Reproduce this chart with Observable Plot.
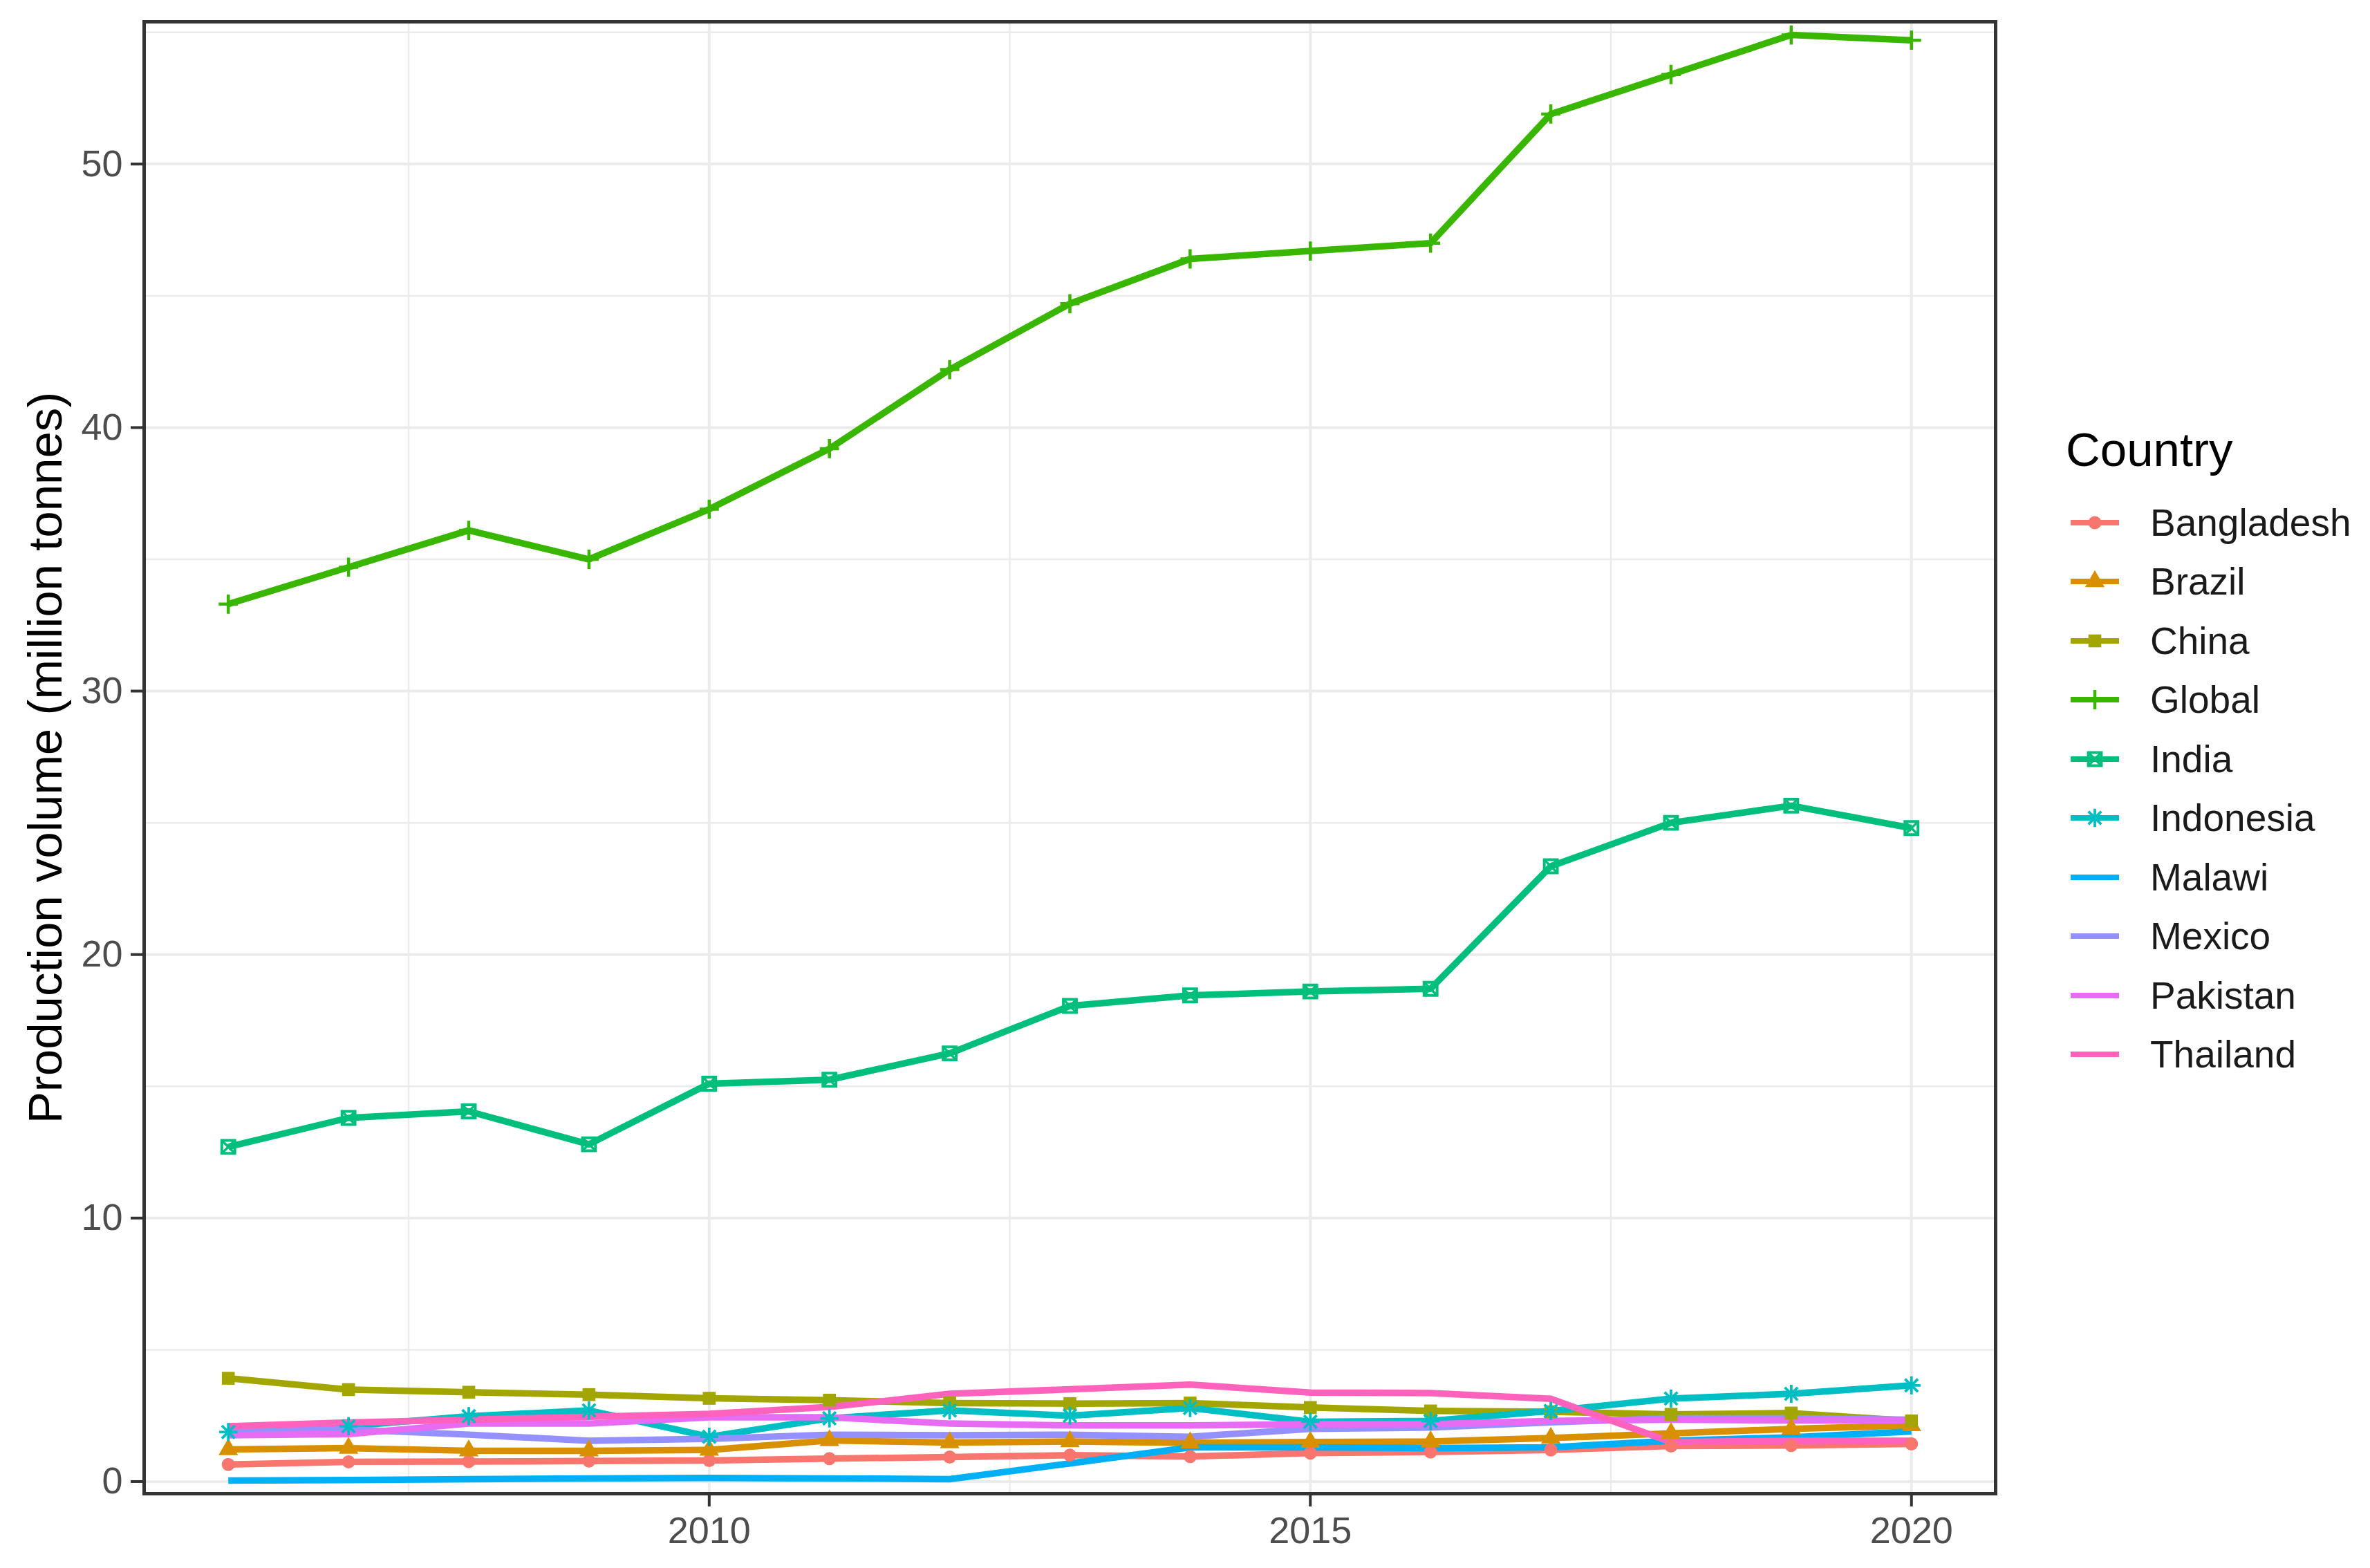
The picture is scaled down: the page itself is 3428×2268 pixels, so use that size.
<!DOCTYPE html>
<html><head><meta charset="utf-8">
<script src="https://cdn.jsdelivr.net/npm/d3@7"></script>
<script src="https://cdn.jsdelivr.net/npm/@observablehq/plot@0.6"></script>
<style>
html,body{margin:0;padding:0;background:#fff;}
#wrap{position:relative;width:3428px;height:2268px;font-family:"Liberation Sans",Arial,Helvetica,sans-serif;background:#fff;}
#chart{position:absolute;left:0;top:0;}
#legend{position:absolute;left:2988px;top:611px;}
.ltitle{font-size:69px;line-height:80px;height:80px;color:#000;margin-bottom:22px;white-space:nowrap;}
.litem{display:flex;align-items:center;height:85.5px;}
.litem svg{margin-left:7px;margin-right:45px;overflow:visible;}
.litem span{font-size:55px;color:#1a1a1a;white-space:nowrap;}
</style></head>
<body><div id="wrap"><div id="chart"></div><div id="legend"></div></div>
<script>
// ---- data ----
const years = [2006, 2007, 2008, 2009, 2010, 2011, 2012, 2013, 2014, 2015, 2016, 2017, 2018, 2019, 2020];
const countries = ["Bangladesh", "Brazil", "China", "Global", "India", "Indonesia", "Malawi", "Mexico", "Pakistan", "Thailand"];
const colors = ["#F8766D", "#D89000", "#A3A500", "#39B600", "#00BF7D", "#00BFC4", "#00B0F6", "#9590FF", "#E76BF3", "#FF62BC"];

const bangladesh = [0.65, 0.75, 0.76, 0.78, 0.80, 0.87, 0.93, 1.00, 0.95, 1.08, 1.12, 1.20, 1.35, 1.37, 1.43];
const brazil     = [1.22, 1.27, 1.17, 1.17, 1.20, 1.56, 1.48, 1.52, 1.47, 1.50, 1.52, 1.65, 1.83, 2.00, 2.13];
const china      = [3.92, 3.49, 3.39, 3.30, 3.16, 3.09, 2.98, 2.96, 2.98, 2.81, 2.68, 2.65, 2.55, 2.60, 2.30];
const global     = [33.3, 34.7, 36.1, 35.0, 36.9, 39.2, 42.2, 44.7, 46.4, 46.7, 47.0, 51.9, 53.4, 54.9, 54.7];
const india      = [12.7, 13.8, 14.05, 12.8, 15.1, 15.25, 16.25, 18.05, 18.45, 18.6, 18.7, 23.35, 25.0, 25.65, 24.8];
const indonesia  = [1.88, 2.10, 2.48, 2.70, 1.70, 2.40, 2.70, 2.50, 2.79, 2.27, 2.30, 2.68, 3.15, 3.33, 3.65];
const malawi     = [0.04, 0.06, 0.09, 0.12, 0.14, 0.12, 0.09, 0.69, 1.30, 1.30, 1.27, 1.30, 1.55, 1.68, 1.90];
const mexico     = [1.92, 1.98, 1.78, 1.55, 1.62, 1.78, 1.76, 1.78, 1.70, 2.00, 2.05, 2.25, 2.40, 2.40, 2.35];
const pakistan   = [1.76, 1.80, 2.20, 2.20, 2.44, 2.44, 2.20, 2.13, 2.13, 2.18, 2.18, 2.30, 2.35, 2.32, 2.32];
const thailand   = [2.10, 2.24, 2.35, 2.46, 2.57, 2.83, 3.33, 3.50, 3.68, 3.38, 3.36, 3.14, 1.50, 1.55, 1.55];

const seriesValues = [bangladesh, brazil, china, global, india, indonesia, malawi, mexico, pakistan, thailand];

const xTicks = [2010, 2015, 2020];
const xMinor = [2007.5, 2012.5, 2017.5];
const yTicks = [0, 10, 20, 30, 40, 50];
const yMinor = [5, 15, 25, 35, 45, 55];
const yLabel = "Production volume (million tonnes)";
const legendTitle = "Country";

// ---- table ----
const rows = countries.flatMap((c, ci) => years.map((yr, i) => ({country: c, year: yr, value: seriesValues[ci][i]})));
const of = c => rows.filter(d => d.country === c);

// symbol specs per country: [symbol, r, filled, strokeWidth]
const symbolSpecs = [
  [[d3.symbolCircle, 9.5, true]],
  [[d3.symbolTriangle, 10.5, true]],
  [[d3.symbolSquare, 10.5, true]],
  [[d3.symbolPlus, 9, false, 4.5]],
  [[d3.symbolSquare2, 12, false, 4], [d3.symbolTimes, 8.6, false, 3.5]],
  [[d3.symbolPlus, 8.5, false, 3.8], [d3.symbolTimes, 8.5, false, 3.8]],
  [], [], [], []
];

const dotMarks = countries.flatMap((c, i) => symbolSpecs[i].map(([symbol, r, filled, sw]) =>
  Plot.dot(of(c), {
    x: "year", y: "value", symbol: () => symbol, r,
    ...(filled ? {fill: "country", stroke: "none"} : {stroke: "country", fill: "none", strokeWidth: sw})
  })
));

const plot = Plot.plot({
  width: 2930, height: 2268,
  marginLeft: 208, marginRight: 44, marginTop: 31, marginBottom: 108,
  style: {fontFamily: '"Liberation Sans", Arial, Helvetica, sans-serif', fontSize: "54px", background: "#fff", overflow: "visible"},
  x: {domain: [2005.3, 2020.7]},
  y: {domain: [-0.46, 55.4]},
  color: {domain: countries, range: colors},
  marks: [
    Plot.gridX(xMinor, {stroke: "#EBEBEB", strokeOpacity: 1, strokeWidth: 2.5}),
    Plot.gridY(yMinor, {stroke: "#EBEBEB", strokeOpacity: 1, strokeWidth: 2.5}),
    Plot.gridX(xTicks, {stroke: "#EBEBEB", strokeOpacity: 1, strokeWidth: 4}),
    Plot.gridY(yTicks, {stroke: "#EBEBEB", strokeOpacity: 1, strokeWidth: 4}),
    Plot.line(rows, {x: "year", y: "value", z: "country", stroke: "country", strokeWidth: 9.5, strokeLinejoin: "round", strokeLinecap: "butt"}),
    ...dotMarks,
    Plot.frame({stroke: "#333333", strokeWidth: 5}),
    Plot.axisX(xTicks, {tickFormat: d => String(d), tickSize: 19, tickPadding: 14, stroke: "#333333", strokeWidth: 4, fill: "#4D4D4D", label: null, fontSize: 54}),
    Plot.axisY(yTicks, {tickSize: 19, tickPadding: 12, stroke: "#333333", strokeWidth: 4, fill: "#4D4D4D", label: null, fontSize: 54}),
    Plot.text([yLabel], {frameAnchor: "left", textAnchor: "middle", lineAnchor: "middle", dx: -142, rotate: -90, fontSize: 69, fill: "#000"})
  ]
});
document.getElementById("chart").appendChild(plot);

// ---- legend ----
const legend = d3.select("#legend");
legend.append("div").attr("class", "ltitle").text(legendTitle);
countries.forEach((c, i) => {
  const item = legend.append("div").attr("class", "litem");
  const svg = item.append("svg").attr("width", 70).attr("height", 40);
  svg.append("line").attr("x1", 0).attr("x2", 70).attr("y1", 20).attr("y2", 20)
    .attr("stroke", colors[i]).attr("stroke-width", 8);
  symbolSpecs[i].forEach(([type, r, filled, sw]) => {
    svg.append("path").attr("transform", "translate(35,20)")
      .attr("d", d3.symbol(type, Math.PI * r * r)())
      .attr("fill", filled ? colors[i] : "none")
      .attr("stroke", filled ? "none" : colors[i])
      .attr("stroke-width", filled ? 0 : sw);
  });
  item.append("span").text(c);
});
</script>
</body></html>
